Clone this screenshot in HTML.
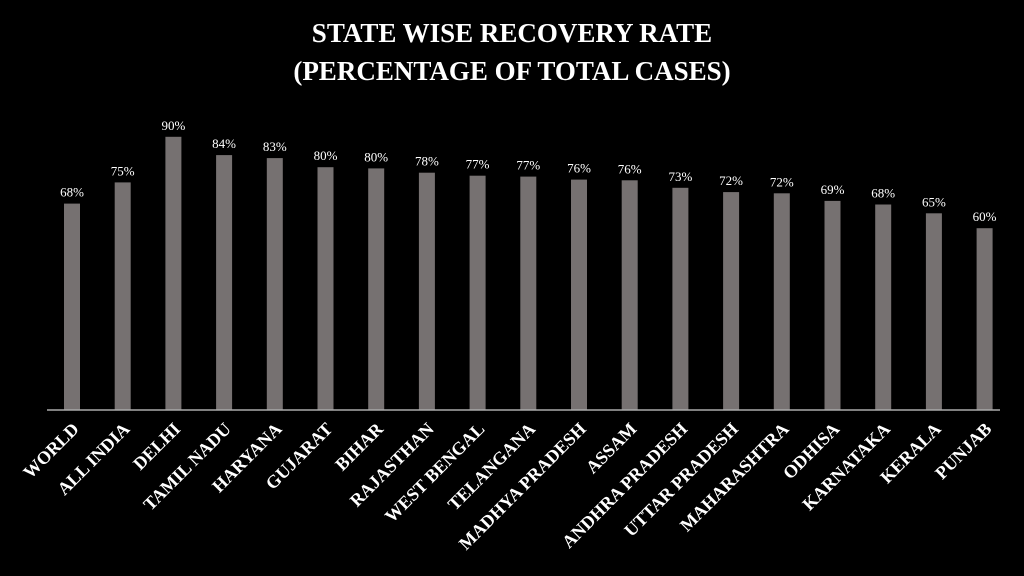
<!DOCTYPE html>
<html><head><meta charset="utf-8"><style>
html,body{margin:0;padding:0;background:#000;}
svg{display:block}
.v{fill:#fff;font-family:"Liberation Serif",serif;font-size:13px;text-anchor:middle}
.l{fill:#fff;font-family:"Liberation Serif",serif;font-weight:bold;font-size:18px;text-anchor:end}
</style></head><body>
<svg width="1024" height="576" xmlns="http://www.w3.org/2000/svg">
<rect width="1024" height="576" fill="#000"/>
<text x="512" y="42" text-anchor="middle" fill="#fff" font-family="Liberation Serif, serif" font-weight="bold" font-size="27">STATE WISE RECOVERY RATE</text>
<text x="512" y="80" text-anchor="middle" fill="#fff" font-family="Liberation Serif, serif" font-weight="bold" font-size="27">(PERCENTAGE OF TOTAL CASES)</text>
<g fill="#767171">
<rect x="64" y="203.6" width="16" height="206.4"/>
<rect x="114.7" y="182.4" width="16" height="227.6"/>
<rect x="165.4" y="136.8" width="16" height="273.2"/>
<rect x="216.1" y="155.1" width="16" height="254.9"/>
<rect x="266.8" y="158.1" width="16" height="251.9"/>
<rect x="317.5" y="167.2" width="16" height="242.8"/>
<rect x="368.2" y="168.4" width="16" height="241.6"/>
<rect x="418.9" y="172.7" width="16" height="237.3"/>
<rect x="469.6" y="175.7" width="16" height="234.3"/>
<rect x="520.3" y="176.6" width="16" height="233.4"/>
<rect x="571" y="179.6" width="16" height="230.4"/>
<rect x="621.7" y="180.3" width="16" height="229.7"/>
<rect x="672.4" y="187.8" width="16" height="222.2"/>
<rect x="723.1" y="192.1" width="16" height="217.9"/>
<rect x="773.8" y="193.3" width="16" height="216.7"/>
<rect x="824.5" y="200.9" width="16" height="209.1"/>
<rect x="875.2" y="204.5" width="16" height="205.5"/>
<rect x="925.9" y="213.3" width="16" height="196.7"/>
<rect x="976.6" y="228.2" width="16" height="181.8"/>
</g>
<line x1="47" y1="410" x2="1000" y2="410" stroke="#aaa" stroke-width="1.5"/>
<text class="v" x="72" y="196.6">68%</text>
<text class="v" x="122.7" y="175.4">75%</text>
<text class="v" x="173.4" y="129.8">90%</text>
<text class="v" x="224.1" y="148.1">84%</text>
<text class="v" x="274.8" y="151.1">83%</text>
<text class="v" x="325.5" y="160.2">80%</text>
<text class="v" x="376.2" y="161.4">80%</text>
<text class="v" x="426.9" y="165.7">78%</text>
<text class="v" x="477.6" y="168.7">77%</text>
<text class="v" x="528.3" y="169.6">77%</text>
<text class="v" x="579" y="172.6">76%</text>
<text class="v" x="629.7" y="173.3">76%</text>
<text class="v" x="680.4" y="180.8">73%</text>
<text class="v" x="731.1" y="185.1">72%</text>
<text class="v" x="781.8" y="186.3">72%</text>
<text class="v" x="832.5" y="193.9">69%</text>
<text class="v" x="883.2" y="197.5">68%</text>
<text class="v" x="933.9" y="206.3">65%</text>
<text class="v" x="984.6" y="221.2">60%</text>
<text class="l" transform="translate(80,430) rotate(-45)">WORLD</text>
<text class="l" transform="translate(130.7,430) rotate(-45)">ALL INDIA</text>
<text class="l" transform="translate(181.4,430) rotate(-45)">DELHI</text>
<text class="l" transform="translate(232.1,430) rotate(-45)">TAMIL NADU</text>
<text class="l" transform="translate(282.8,430) rotate(-45)">HARYANA</text>
<text class="l" transform="translate(333.5,430) rotate(-45)">GUJARAT</text>
<text class="l" transform="translate(384.2,430) rotate(-45)">BIHAR</text>
<text class="l" transform="translate(434.9,430) rotate(-45)">RAJASTHAN</text>
<text class="l" transform="translate(485.6,430) rotate(-45)">WEST BENGAL</text>
<text class="l" transform="translate(536.3,430) rotate(-45)">TELANGANA</text>
<text class="l" transform="translate(587,430) rotate(-45)">MADHYA PRADESH</text>
<text class="l" transform="translate(637.7,430) rotate(-45)">ASSAM</text>
<text class="l" transform="translate(688.4,430) rotate(-45)">ANDHRA PRADESH</text>
<text class="l" transform="translate(739.1,430) rotate(-45)">UTTAR PRADESH</text>
<text class="l" transform="translate(789.8,430) rotate(-45)">MAHARASHTRA</text>
<text class="l" transform="translate(840.5,430) rotate(-45)">ODHISA</text>
<text class="l" transform="translate(891.2,430) rotate(-45)">KARNATAKA</text>
<text class="l" transform="translate(941.9,430) rotate(-45)">KERALA</text>
<text class="l" transform="translate(992.6,430) rotate(-45)">PUNJAB</text>
</svg>
</body></html>
